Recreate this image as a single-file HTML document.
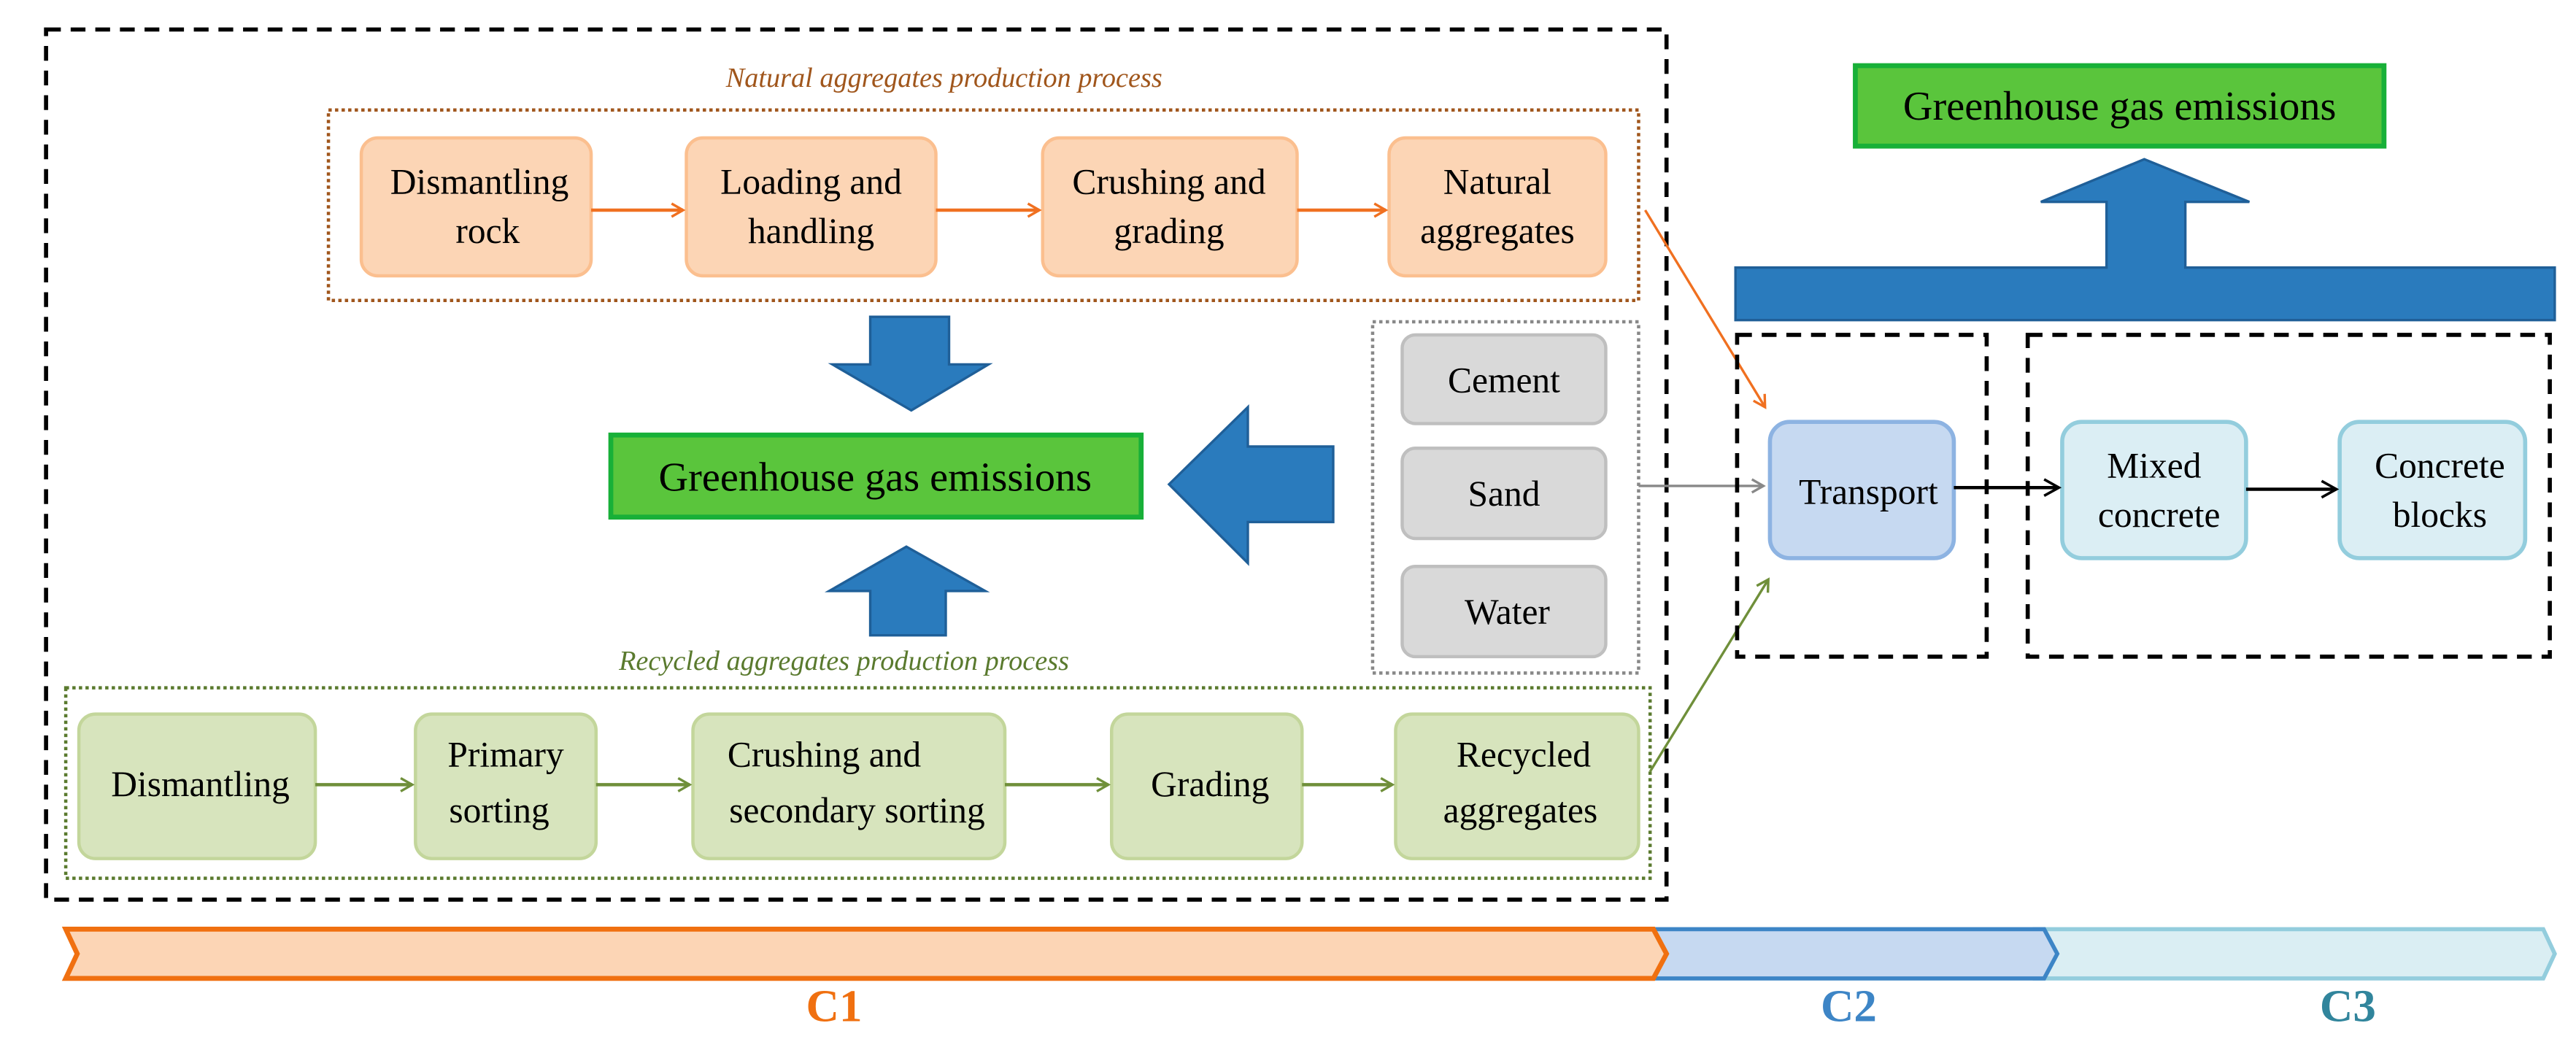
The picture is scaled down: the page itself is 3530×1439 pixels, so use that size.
<!DOCTYPE html>
<html><head><meta charset="utf-8"><style>html,body{margin:0;padding:0;background:#fff}svg{display:block}</style></head>
<body>
<svg width="3530" height="1439" viewBox="0 0 1568.9 639.6" xmlns="http://www.w3.org/2000/svg" font-family="'Liberation Serif', serif">
<defs>
<marker id="ao" markerWidth="10" markerHeight="10" refX="8" refY="5" orient="auto" markerUnits="userSpaceOnUse"><path d="M1,1 L8,5 L1,9" fill="none" stroke="#f07020" stroke-width="1.5"/></marker>
<marker id="ag" markerWidth="10" markerHeight="10" refX="8" refY="5" orient="auto" markerUnits="userSpaceOnUse"><path d="M1,1 L8,5 L1,9" fill="none" stroke="#6f8f3a" stroke-width="1.5"/></marker>
<marker id="ay" markerWidth="10" markerHeight="10" refX="8" refY="5" orient="auto" markerUnits="userSpaceOnUse"><path d="M1,1 L8,5 L1,9" fill="none" stroke="#888" stroke-width="1.5"/></marker>
<marker id="ak" markerWidth="12" markerHeight="12" refX="10" refY="6" orient="auto" markerUnits="userSpaceOnUse"><path d="M1,1 L10,6 L1,11" fill="none" stroke="#000" stroke-width="1.6"/></marker>
</defs>
<!-- outer dashed -->
<rect x="28" y="18" width="987" height="530" fill="none" stroke="#000" stroke-width="2.5" stroke-dasharray="9,6"/>
<text x="575" y="53" text-anchor="middle" font-style="italic" font-size="17" fill="#a0561c">Natural aggregates production process</text>
<rect x="200" y="67" width="798" height="116" fill="none" stroke="#a0561c" stroke-width="2" stroke-dasharray="2,2"/>
<g fill="#fcd5b5" stroke="#fbbf8f" stroke-width="2">
<rect x="220" y="84" width="140" height="84" rx="10"/>
<rect x="418" y="84" width="152" height="84" rx="10"/>
<rect x="635" y="84" width="155" height="84" rx="10"/>
<rect x="846" y="84" width="132" height="84" rx="10"/>
</g>
<g font-size="22" text-anchor="middle" fill="#000">
<text x="292" y="118">Dismantling</text><text x="297" y="148">rock</text>
<text x="494" y="118">Loading and</text><text x="494" y="148">handling</text>
<text x="712" y="118">Crushing and</text><text x="712" y="148">grading</text>
<text x="912" y="118">Natural</text><text x="912" y="148">aggregates</text>
</g>
<g stroke="#f07020" stroke-width="2" marker-end="url(#ao)">
<line x1="360" y1="128" x2="416" y2="128"/><line x1="570" y1="128" x2="633" y2="128"/><line x1="790" y1="128" x2="844" y2="128"/>
<line x1="1002" y1="128" x2="1075" y2="248" stroke-width="1.5"/>
</g>
<!-- blue arrows -->
<g fill="#2a7bbd" stroke="#1f5f98" stroke-width="1.5">
<path d="M530,193 H578 V222 H602 L555,250 L507,222 H530 Z"/>
<path d="M812,272 V318 H760 V343 L712,295 L760,248 V272 Z"/>
<path d="M530,387 V360 H505 L552,333 L600,360 H576 V387 Z"/>
<path d="M1057,163 H1283 V123 H1243 L1306,97 L1370,123 H1331 V163 H1556 V195 H1057 Z"/>
</g>
<rect x="372" y="265" width="323" height="50" fill="#5ac53c" stroke="#18b038" stroke-width="3"/>
<text x="533" y="299" text-anchor="middle" font-size="25">Greenhouse gas emissions</text>
<rect x="1130" y="40" width="322" height="49" fill="#5ac53c" stroke="#18b038" stroke-width="3"/>
<text x="1291" y="73" text-anchor="middle" font-size="25">Greenhouse gas emissions</text>
<!-- gray -->
<rect x="836" y="196" width="162" height="214" fill="none" stroke="#888" stroke-width="2" stroke-dasharray="2,2"/>
<g fill="#d9d9d9" stroke="#bfbfbf" stroke-width="2">
<rect x="854" y="204" width="124" height="54" rx="8"/><rect x="854" y="273" width="124" height="55" rx="8"/><rect x="854" y="345" width="124" height="55" rx="8"/>
</g>
<g font-size="22" text-anchor="middle"><text x="916" y="239">Cement</text><text x="916" y="308">Sand</text><text x="918" y="380">Water</text></g>
<line x1="998" y1="296" x2="1074" y2="296" stroke="#888" stroke-width="1.5" marker-end="url(#ay)"/>
<!-- recycled -->
<text x="514" y="408" text-anchor="middle" font-style="italic" font-size="17" fill="#5a7a2e">Recycled aggregates production process</text>
<rect x="40" y="419" width="965" height="116" fill="none" stroke="#5a7a2e" stroke-width="2" stroke-dasharray="2,2"/>
<g fill="#d7e4bd" stroke="#c3d69b" stroke-width="2">
<rect x="48" y="435" width="144" height="88" rx="10"/><rect x="253" y="435" width="110" height="88" rx="10"/>
<rect x="422" y="435" width="190" height="88" rx="10"/><rect x="677" y="435" width="116" height="88" rx="10"/>
<rect x="850" y="435" width="148" height="88" rx="10"/>
</g>
<g font-size="22" text-anchor="middle">
<text x="122" y="485">Dismantling</text>
<text x="308" y="467">Primary</text><text x="304" y="501">sorting</text>
<text x="502" y="467">Crushing and</text><text x="522" y="501">secondary sorting</text>
<text x="737" y="485">Grading</text>
<text x="928" y="467">Recycled</text><text x="926" y="501">aggregates</text>
</g>
<g stroke="#6f8f3a" stroke-width="2" marker-end="url(#ag)">
<line x1="192" y1="478" x2="251" y2="478"/><line x1="363" y1="478" x2="420" y2="478"/><line x1="612" y1="478" x2="675" y2="478"/><line x1="793" y1="478" x2="848" y2="478"/>
<line x1="1005" y1="470" x2="1077" y2="353" stroke-width="1.5"/>
</g>
<!-- right dashed -->
<rect x="1058" y="204" width="152" height="196" fill="none" stroke="#000" stroke-width="2.5" stroke-dasharray="9,6"/>
<rect x="1235" y="204" width="318" height="196" fill="none" stroke="#000" stroke-width="2.5" stroke-dasharray="9,6"/>
<rect x="1078" y="257" width="112" height="83" rx="12" fill="#c6d9f1" stroke="#8db3e2" stroke-width="2.5"/>
<rect x="1256" y="257" width="112" height="83" rx="12" fill="#dbeef4" stroke="#93cddd" stroke-width="2.5"/>
<rect x="1425" y="257" width="113" height="83" rx="12" fill="#dbeef4" stroke="#93cddd" stroke-width="2.5"/>
<g font-size="22" text-anchor="middle">
<text x="1138" y="307">Transport</text>
<text x="1312" y="291">Mixed</text><text x="1315" y="321">concrete</text>
<text x="1486" y="291">Concrete</text><text x="1486" y="321">blocks</text>
</g>
<line x1="1190" y1="297" x2="1254" y2="297" stroke="#000" stroke-width="2" marker-end="url(#ak)"/>
<line x1="1368" y1="298" x2="1423" y2="298" stroke="#000" stroke-width="2" marker-end="url(#ak)"/>
<!-- chevrons -->
<path d="M1240,566 H1549 L1556,581 L1549,596 H1240 L1247,581 Z" fill="#daeef3" stroke="#93cddd" stroke-width="2.5"/>
<path d="M1003,566 H1245 L1253,581 L1245,596 H1003 L1010,581 Z" fill="#c6d9f1" stroke="#3d85c6" stroke-width="2.5"/>
<path d="M40,566 H1007 L1015,581 L1007,596 H40 L47,581 Z" fill="#fcd5b5" stroke="#f07010" stroke-width="3"/>
<g font-size="28" font-weight="bold" text-anchor="middle">
<text x="508" y="622" fill="#f07010">C1</text><text x="1126" y="622" fill="#3d85c6">C2</text><text x="1430" y="622" fill="#31859c">C3</text>
</g>
</svg>
</body></html>
